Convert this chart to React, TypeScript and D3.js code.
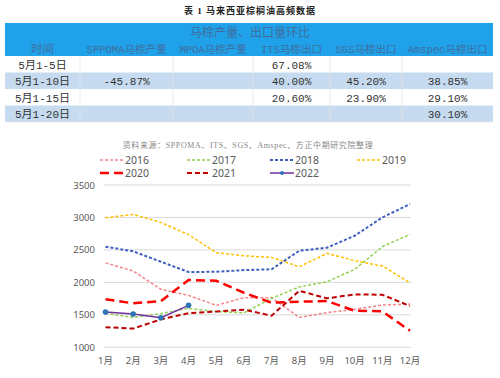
import React from "react";
import * as d3 from "d3";

const months = ["1月","2月","3月","4月","5月","6月","7月","8月","9月","10月","11月","12月"];
const yTicks = [1000, 1500, 2000, 2500, 3000, 3500];
const s2016 = [2300, 2175, 1893, 1800, 1645, 1765, 1765, 1460, 1535, 1584, 1651, 1666];
const s2017 = [1525, 1460, 1520, 1600, 1550, 1530, 1755, 1930, 2010, 2200, 2550, 2740];
const s2018 = [2550, 2478, 2318, 2160, 2163, 2189, 2202, 2488, 2534, 2718, 3000, 3206];
const s2019 = [2995, 3047, 2924, 2735, 2457, 2410, 2385, 2241, 2447, 2334, 2252, 1995];
const s2020 = [1740, 1677, 1712, 2036, 2026, 1840, 1686, 1702, 1712, 1563, 1555, 1255];
const s2021 = [1310, 1288, 1430, 1525, 1550, 1580, 1486, 1871, 1754, 1815, 1810, 1635];
const s2022 = [1543, 1512, 1456, 1646];

const years = ["2016","2017","2018","2019","2020","2021","2022"];
const seriesData = [s2016, s2017, s2018, s2019, s2020, s2021, s2022];
const colors = ["#f4848c", "#92d050", "#3f5fbf", "#ffc000", "#ff0000", "#c00000", "#7030a0"];
const dashes = ["3,2", "3,2", "3,2", "3,2", "9,5", "5,3", ""];
const widths = [1.5, 1.5, 2, 1.5, 2.5, 2, 1.5];

const tableTitle = "表 1  马来西亚棕榈油高频数据";
const headerTop = "马棕产量、出口量环比";
const headerCols = ["时间", "SPPOMA马棕产量", "MPOA马棕产量", "ITS马棕出口", "SGS马棕出口", "Amspec马棕出口"];
const tableRows = [
  ["5月1-5日", "", "", "67.08%", "", ""],
  ["5月1-10日", "-45.87%", "", "40.00%", "45.20%", "38.85%"],
  ["5月1-15日", "", "", "20.60%", "23.90%", "29.10%"],
  ["5月1-20日", "", "", "", "", "30.10%"],
];
const sourceText = "资料来源：SPPOMA、ITS、SGS、Amspec、方正中期研究院整理";

const colEdges = [5, 80, 173, 253, 330, 402, 493];
const rowTops = [56, 72.5, 89, 105.5, 122];

export default function App() {
  const x = d3.scalePoint<string>().domain(months).range([105.5, 410]);
  const y = d3.scaleLinear().domain([1000, 3500]).range([347.3, 185]);
  const line = d3.line<number>().x((_, i) => x(months[i])!).y((d) => y(d));
  const serif = "'Liberation Serif','Noto Sans CJK SC',serif";
  const mono = "'Liberation Mono','Noto Sans CJK SC',monospace";
  const sans = "'Noto Sans','Noto Sans CJK SC',sans-serif";

  const legendPos = [
    [100, 164], [187, 164], [270, 164], [357, 164],
    [100, 177], [187, 177], [270, 177],
  ];

  return (
    <div style={{ position: "absolute", left: 0, top: 0 }}>
      <svg width={500} height={378} style={{ display: "block", background: "#fff" }}>
        <text x={250} y={14} textAnchor="middle" fontSize={9} fontWeight="bold" fill="#222" fontFamily={serif} letterSpacing={1}>{tableTitle}</text>
        {/* table */}
        <rect x={5} y={23} width={488} height={33} fill="#20a2ea" />
        <text x={250} y={37} textAnchor="middle" fontSize={12} fill="#3f6e9e" fontFamily={mono}>{headerTop}</text>
        {headerCols.map((h, i) => (
          <text key={h} x={(colEdges[i] + colEdges[i + 1]) / 2} y={53} textAnchor="middle" fontSize={i === 0 ? 11.5 : 10.5} fill="#3f6e9e" fontFamily={mono}>{h}</text>
        ))}
        {tableRows.map((r, ri) => (
          <g key={ri}>
            <rect x={5} y={rowTops[ri]} width={488} height={rowTops[ri + 1] - rowTops[ri]} fill={ri % 2 === 1 ? "#c6dbef" : "#fff"} />
            {r.map((c, ci) => (
              <text key={ci} x={(colEdges[ci] + colEdges[ci + 1]) / 2} y={rowTops[ri] + 12.5} textAnchor="middle" fontSize={11} fill="#333" fontFamily={mono}>{c}</text>
            ))}
          </g>
        ))}
        {colEdges.slice(1, -1).map((cx, i) => (
          <line key={i} x1={cx} x2={cx} y1={56} y2={122} stroke="#e4e4e4" strokeWidth={0.8} />
        ))}
        <line x1={5} x2={493} y1={122} y2={122} stroke="#e4e4e4" strokeWidth={0.8} />
        <text x={248} y={148} textAnchor="middle" fontSize={8} fill="#888" fontFamily={serif} letterSpacing={0.6}>{sourceText}</text>

        {/* legend */}
        {years.map((yr, i) => {
          const [lx, ly] = legendPos[i];
          return (
            <g key={yr}>
              <line x1={lx} x2={lx + 24} y1={ly - 4} y2={ly - 4} stroke={colors[i]} strokeWidth={widths[i]} strokeDasharray={dashes[i]} />
              {i === 6 && <circle cx={lx + 12} cy={ly - 4} r={2} fill="#2e75b6" />}
              <text x={lx + 25} y={ly} fontSize={10.5} fill="#595959" fontFamily={sans}>{yr}</text>
            </g>
          );
        })}

        {/* grid */}
        {yTicks.map((t) => (
          <g key={t}>
            <line x1={104} x2={411} y1={y(t)} y2={y(t)} stroke="#d9d9d9" strokeWidth={1} />
            <text x={95} y={y(t) + 3.5} textAnchor="end" fontSize={9.5} fill="#595959" fontFamily={sans}>{t}</text>
          </g>
        ))}
        {months.map((m) => (
          <text key={m} x={x(m)!} y={364} textAnchor="middle" fontSize={9.5} fill="#595959" fontFamily={sans}>{m}</text>
        ))}

        {/* series */}
        {seriesData.map((s, i) => (
          <path key={years[i]} d={line(s)!} fill="none" stroke={colors[i]} strokeWidth={widths[i]} strokeDasharray={dashes[i]} />
        ))}
        {s2022.map((v, i) => (
          <circle key={i} cx={x(months[i])!} cy={y(v)} r={2.8} fill="#2e75b6" />
        ))}
      </svg>
    </div>
  );
}
